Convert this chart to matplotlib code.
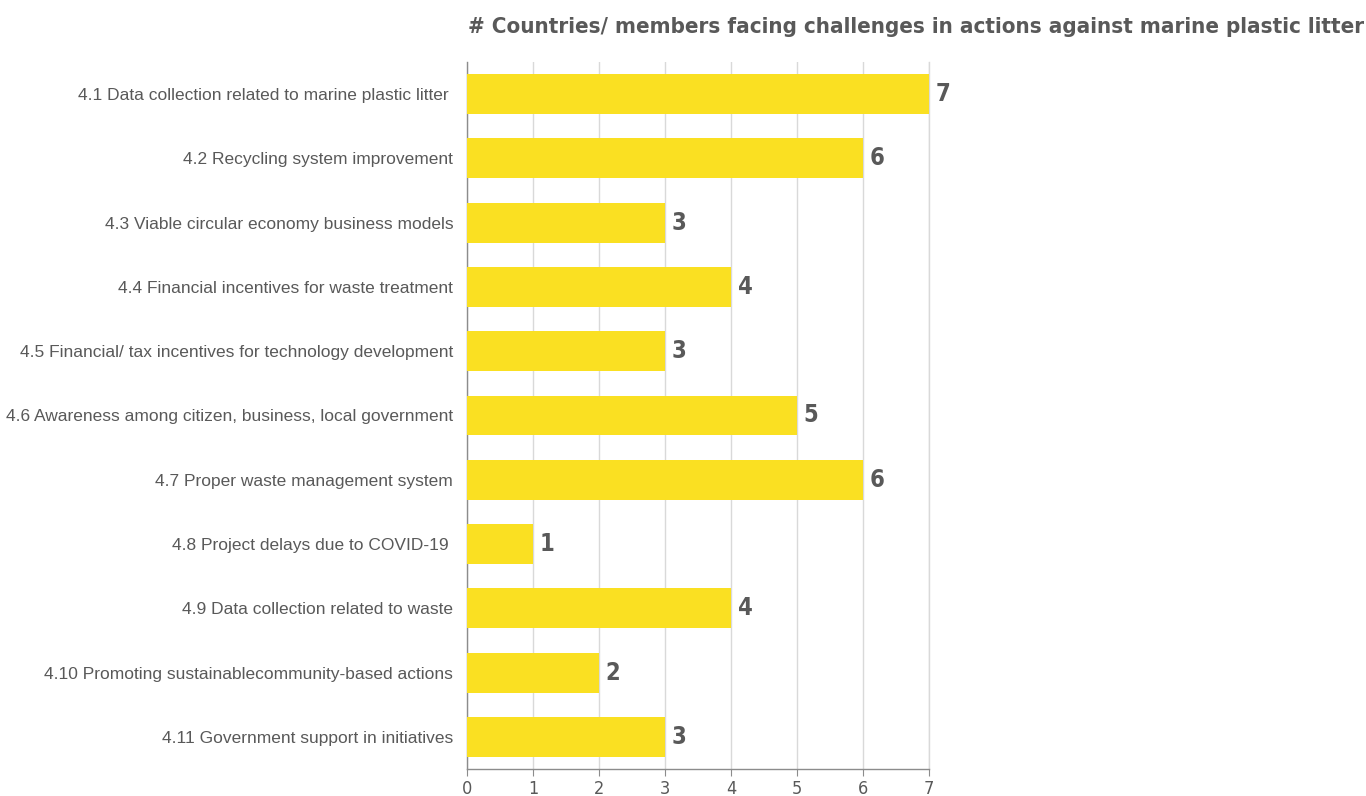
import matplotlib
matplotlib.use("Agg")
import matplotlib.pyplot as plt

categories = [
    "4.1 Data collection related to marine plastic litter ",
    "4.2 Recycling system improvement",
    "4.3 Viable circular economy business models",
    "4.4 Financial incentives for waste treatment",
    "4.5 Financial/ tax incentives for technology development",
    "4.6 Awareness among citizen, business, local government",
    "4.7 Proper waste management system",
    "4.8 Project delays due to COVID-19 ",
    "4.9 Data collection related to waste",
    "4.10 Promoting sustainablecommunity-based actions",
    "4.11 Government support in initiatives",
]
counts = [7, 6, 3, 4, 3, 5, 6, 1, 4, 2, 3]
x_ticks = [0, 1, 2, 3, 4, 5, 6, 7]

title = "# Countries/ members facing challenges in actions against marine plastic litter"

bar_color = "#FAE022"
text_gray = "#595959"
grid_gray = "#D9D9D9"
axis_gray = "#8C8C8C"

fig = plt.figure(figsize=(13.66, 7.96), dpi=100)
ax = fig.add_axes([0.3419, 0.0339, 0.3382, 0.8883])

y = list(range(len(categories)))
ax.barh(y, counts, height=0.62, color=bar_color, zorder=3)
ax.set_ylim(len(categories) - 0.5, -0.5)
ax.set_xlim(0, 7)

ax.set_yticks(y)
ax.set_yticklabels(categories, fontsize=12.5, color=text_gray, family="Liberation Sans")
ax.tick_params(axis="y", length=0, pad=10)

ax.set_xticks(x_ticks)
ax.set_xticklabels([str(t) for t in x_ticks], fontsize=13, color=text_gray,
                   fontstretch="condensed")
ax.tick_params(axis="x", direction="out", length=5, color=axis_gray, pad=3)

ax.grid(axis="x", color=grid_gray, linewidth=1, zorder=0)
ax.axvline(7, color=grid_gray, linewidth=1, zorder=0, clip_on=False)
for s in ["top", "right"]:
    ax.spines[s].set_visible(False)
for s in ["left", "bottom"]:
    ax.spines[s].set_color(axis_gray)
    ax.spines[s].set_linewidth(1)

# value labels at the end of each bar
for yi, v in zip(y, counts):
    ax.text(v + 0.1, yi, str(v), va="center", ha="left",
            fontsize=17, fontweight="bold", fontstretch="condensed", color=text_gray)

fig.text(0.6705, 0.966, title, ha="center", va="center",
         fontsize=16, fontweight="bold", fontstretch="condensed", color=text_gray)

fig.savefig("out.png", dpi=100)
